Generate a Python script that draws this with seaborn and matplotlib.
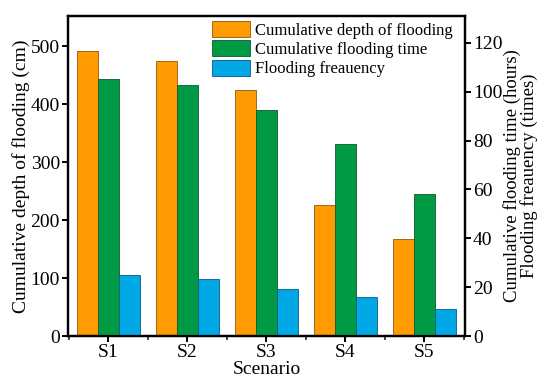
import pandas as pd
import seaborn as sns
import matplotlib.pyplot as plt
from matplotlib.colors import to_rgb
from matplotlib.patches import Patch
from matplotlib.ticker import MultipleLocator, FixedLocator

scenarios = ["S1", "S2", "S3", "S4", "S5"]
depth_cm = [491, 474, 424, 226, 167]
flood_time_h = [105, 102.6, 92.5, 78.6, 58.2]
flood_freq = [25.1, 23.2, 19.3, 16.1, 11.1]

labels = ["Cumulative depth of flooding", "Cumulative flooding time", "Flooding freauency"]
colors = {labels[0]: "#FF9A00", labels[1]: "#009A44", labels[2]: "#00A9E6"}
edges = {labels[0]: "#8a5a10", labels[1]: "#0b5a2c", labels[2]: "#0b5a80"}

left_df = pd.DataFrame({"Scenario": scenarios, "value": depth_cm, "series": labels[0]})
right_df = pd.concat([
    pd.DataFrame({"Scenario": scenarios, "value": flood_time_h, "series": labels[1]}),
    pd.DataFrame({"Scenario": scenarios, "value": flood_freq, "series": labels[2]}),
])

sns.set_theme(style="ticks")
plt.rcParams["font.family"] = ["Liberation Serif", "DejaVu Serif"]
plt.rcParams["text.color"] = "black"
plt.rcParams["axes.labelcolor"] = "black"

fig, ax = plt.subplots(figsize=(5.5, 3.88), dpi=100)
ax2 = ax.twinx()

for a, df in ((ax, left_df), (ax2, right_df)):
    sns.barplot(data=df, x="Scenario", y="value", hue="series", hue_order=labels,
                palette=colors, order=scenarios, width=0.8, dodge=True, ax=a,
                legend=False, linewidth=0.6, saturation=1)

# darker outline in each bar's own hue
for a in (ax, ax2):
    for bar in a.patches:
        fc = tuple(round(c, 3) for c in bar.get_facecolor()[:3])
        for lab, col in colors.items():
            if fc == tuple(round(c, 3) for c in to_rgb(col)):
                bar.set_edgecolor(edges[lab])

ax.set_xlim(-0.51, 4.51)
ax.set_ylim(0, 552)
ax2.set_ylim(0, 131)
ax.yaxis.set_major_locator(MultipleLocator(100))
ax2.yaxis.set_major_locator(MultipleLocator(20))
ax.xaxis.set_minor_locator(FixedLocator([-0.5, 0.5, 1.5, 2.5, 3.5, 4.5]))

fs = 14
ax.set_xlabel("Scenario", fontsize=fs, labelpad=0)
ax.set_ylabel("Cumulative depth of flooding (cm)", fontsize=fs, labelpad=0)
ax2.set_ylabel("Cumulative flooding time (hours)\nFlooding freauency (times)",
               fontsize=13.5, labelpad=0, linespacing=1.0)
ax2.set_xlabel("")

for a in (ax, ax2):
    a.tick_params(axis="both", which="major", direction="out", length=4, width=1.4,
                  labelsize=fs, pad=2, colors="black")
    a.tick_params(axis="x", which="minor", direction="out", length=3, width=1.2)
    for s in a.spines.values():
        s.set_linewidth(1.6)
        s.set_color("black")

handles = [Patch(facecolor=colors[l], edgecolor=edges[l], linewidth=0.6, label=l) for l in labels]
ax2.legend(handles=handles, loc="upper right", bbox_to_anchor=(0.982, 1.0), frameon=False,
           fontsize=12, handlelength=2.3, handleheight=1.1, labelspacing=0.1,
           handletextpad=0.3, borderaxespad=0.1, borderpad=0.2)

fig.subplots_adjust(left=0.124, right=0.845, top=0.959, bottom=0.134)
fig.savefig("out.png", dpi=100)
